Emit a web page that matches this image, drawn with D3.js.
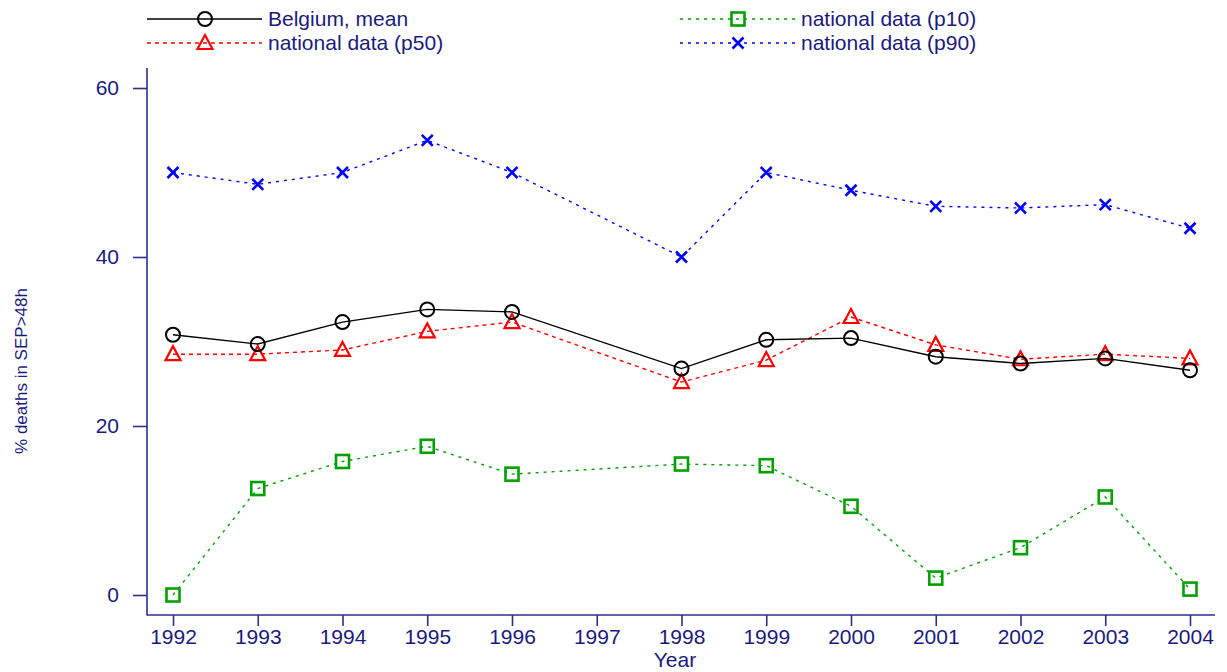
<!DOCTYPE html>
<html>
<head>
<meta charset="utf-8">
<script src="https://cdn.jsdelivr.net/npm/d3@7/dist/d3.min.js"></script>
<style>
  html, body { margin: 0; padding: 0; background: #fff; }
  svg { display: block; font-family: "Liberation Sans", Arial, sans-serif; }
</style>
</head>
<body>
<svg id="chart" width="1227" height="672"></svg>
<script>
// Years on the x axis (1997 has no observation)
const years = [1992, 1993, 1994, 1995, 1996, 1998, 1999, 2000, 2001, 2002, 2003, 2004];
const xTickLabels = [1992, 1993, 1994, 1995, 1996, 1997, 1998, 1999, 2000, 2001, 2002, 2003, 2004];
const yTickLabels = [0, 20, 40, 60];

// % deaths in SEP > 48h
const belgiumMean = [30.8, 29.7, 32.3, 33.8, 33.5, 26.8, 30.2, 30.4, 28.2, 27.4, 28.0, 26.6];
const p50 = [28.5, 28.5, 29.0, 31.2, 32.3, 25.2, 27.8, 32.9, 29.6, 27.9, 28.5, 28.0];
const p10 = [0.0, 12.6, 15.8, 17.6, 14.3, 15.5, 15.3, 10.5, 2.0, 5.6, 11.6, 0.7];
const p90 = [50.0, 48.6, 50.0, 53.8, 50.0, 40.0, 50.0, 47.9, 46.0, 45.8, 46.2, 43.4];

const seriesNames = ["Belgium, mean", "national data (p50)", "national data (p10)", "national data (p90)"];

const navy = "#1a1a7e";
const axisCol = "#2e2e8c";

const series = [
  { name: seriesNames[0], values: belgiumMean, color: "#000000", dash: null, marker: "circle" },
  { name: seriesNames[1], values: p50, color: "#ff0000", dash: "4,4", marker: "triangle" },
  { name: seriesNames[2], values: p10, color: "#00a000", dash: "3,5", marker: "square" },
  { name: seriesNames[3], values: p90, color: "#0000ff", dash: "3,5", marker: "x" }
];

const svg = d3.select("#chart");

const x = d3.scaleLinear().domain([1992, 2004]).range([173, 1190]);
const y = d3.scaleLinear().domain([0, 60]).range([595, 88]);

const axisLeftX = 147, axisBottomY = 615;

// Axis lines
svg.append("line").attr("x1", axisLeftX).attr("x2", axisLeftX).attr("y1", 68).attr("y2", axisBottomY + 0.5)
  .attr("stroke", axisCol).attr("stroke-width", 1.6);
svg.append("line").attr("x1", axisLeftX).attr("x2", 1215).attr("y1", axisBottomY).attr("y2", axisBottomY)
  .attr("stroke", axisCol).attr("stroke-width", 1.6);

// Y axis
const yAxis = svg.append("g").attr("transform", `translate(${axisLeftX},0)`)
  .call(d3.axisLeft(y).tickValues(yTickLabels).tickSize(14).tickPadding(14).tickSizeOuter(0));
yAxis.select(".domain").remove();
yAxis.selectAll("line").attr("stroke", axisCol).attr("stroke-width", 1.6);
yAxis.selectAll("text").attr("fill", navy).style("font-size", "21px");

// X axis
const xAxis = svg.append("g").attr("transform", `translate(0,${axisBottomY})`)
  .call(d3.axisBottom(x).tickValues(xTickLabels).tickFormat(d3.format("d")).tickSize(11).tickPadding(3).tickSizeOuter(0));
xAxis.select(".domain").remove();
xAxis.selectAll("line").attr("stroke", axisCol).attr("stroke-width", 1.6);
xAxis.selectAll("text").attr("fill", navy).style("font-size", "21px");

// Axis titles
svg.append("text").attr("x", 675).attr("y", 667).attr("text-anchor", "middle")
  .attr("fill", navy).style("font-size", "21px").text("Year");
svg.append("text").attr("transform", "translate(27,371) rotate(-90)").attr("text-anchor", "middle")
  .attr("fill", navy).style("font-size", "17px").text("% deaths in SEP>48h");

// Marker drawing
function drawMarker(g, type, color) {
  if (type === "circle") {
    g.append("circle").attr("r", 7).attr("fill", "none").attr("stroke", color).attr("stroke-width", 2);
  } else if (type === "triangle") {
    g.append("path").attr("d", "M0,-8 L7.5,6 L-7.5,6 Z").attr("fill", "none")
      .attr("stroke", color).attr("stroke-width", 2.2);
  } else if (type === "square") {
    g.append("rect").attr("x", -6.5).attr("y", -6.5).attr("width", 13).attr("height", 13)
      .attr("fill", "none").attr("stroke", color).attr("stroke-width", 2.6);
  } else if (type === "x") {
    g.append("path").attr("d", "M-5.5,-5.5 L5.5,5.5 M-5.5,5.5 L5.5,-5.5")
      .attr("stroke", color).attr("stroke-width", 2.6);
  }
}

const line = d3.line().x(d => x(d[0])).y(d => y(d[1]));

// Draw series in back-to-front order
const drawOrder = [3, 2, 1, 0];
drawOrder.forEach(i => {
  const s = series[i];
  const pts = years.map((yr, k) => [yr, s.values[k]]);
  const g = svg.append("g");
  g.append("path").datum(pts).attr("d", line).attr("fill", "none")
    .attr("stroke", s.color).attr("stroke-width", 1.4)
    .attr("stroke-dasharray", s.dash);
  pts.forEach(p => {
    const mg = g.append("g").attr("transform", `translate(${x(p[0])},${y(p[1])})`);
    drawMarker(mg, s.marker, s.color);
  });
});

// Legend
const legendItems = [
  { s: series[0], lx: 147, ly: 19 },
  { s: series[1], lx: 147, ly: 43 },
  { s: series[2], lx: 680, ly: 19 },
  { s: series[3], lx: 680, ly: 43 }
];
legendItems.forEach(it => {
  const g = svg.append("g");
  g.append("line").attr("x1", it.lx).attr("x2", it.lx + 115).attr("y1", it.ly).attr("y2", it.ly)
    .attr("stroke", it.s.color).attr("stroke-width", 1.4).attr("stroke-dasharray", it.s.dash);
  const mg = g.append("g").attr("transform", `translate(${it.lx + 58},${it.ly})`);
  drawMarker(mg, it.s.marker, it.s.color);
  g.append("text").attr("x", it.lx + 121).attr("y", it.ly + 7)
    .attr("fill", navy).style("font-size", "21px").text(it.s.name);
});
</script>
</body>
</html>
